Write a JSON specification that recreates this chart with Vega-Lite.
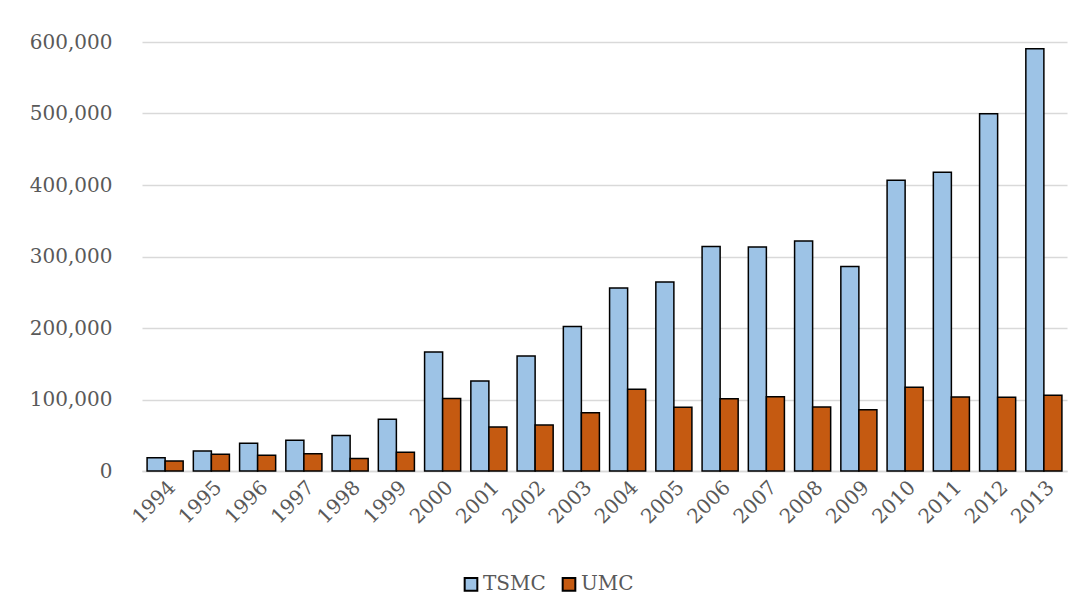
{
  "$schema": "https://vega.github.io/schema/vega-lite/v6.json",
  "autosize": {"type": "none"},
  "width": 925,
  "height": 429,
  "padding": {"left": 142, "top": 42, "right": 16, "bottom": 145},
  "background": "white",
  "data": {
    "values": [
      {"year": "1994", "company": "TSMC", "value": 18500},
      {"year": "1994", "company": "UMC", "value": 14000},
      {"year": "1995", "company": "TSMC", "value": 27800},
      {"year": "1995", "company": "UMC", "value": 23400},
      {"year": "1996", "company": "TSMC", "value": 38800},
      {"year": "1996", "company": "UMC", "value": 22000},
      {"year": "1997", "company": "TSMC", "value": 43000},
      {"year": "1997", "company": "UMC", "value": 24200},
      {"year": "1998", "company": "TSMC", "value": 49500},
      {"year": "1998", "company": "UMC", "value": 17500},
      {"year": "1999", "company": "TSMC", "value": 72500},
      {"year": "1999", "company": "UMC", "value": 26200},
      {"year": "2000", "company": "TSMC", "value": 166500},
      {"year": "2000", "company": "UMC", "value": 101500},
      {"year": "2001", "company": "TSMC", "value": 125800},
      {"year": "2001", "company": "UMC", "value": 61500},
      {"year": "2002", "company": "TSMC", "value": 161000},
      {"year": "2002", "company": "UMC", "value": 64200},
      {"year": "2003", "company": "TSMC", "value": 202000},
      {"year": "2003", "company": "UMC", "value": 81500},
      {"year": "2004", "company": "TSMC", "value": 255800},
      {"year": "2004", "company": "UMC", "value": 114500},
      {"year": "2005", "company": "TSMC", "value": 264500},
      {"year": "2005", "company": "UMC", "value": 89300},
      {"year": "2006", "company": "TSMC", "value": 314000},
      {"year": "2006", "company": "UMC", "value": 101200},
      {"year": "2007", "company": "TSMC", "value": 313200},
      {"year": "2007", "company": "UMC", "value": 103800},
      {"year": "2008", "company": "TSMC", "value": 321700},
      {"year": "2008", "company": "UMC", "value": 89400},
      {"year": "2009", "company": "TSMC", "value": 286000},
      {"year": "2009", "company": "UMC", "value": 85600},
      {"year": "2010", "company": "TSMC", "value": 406800},
      {"year": "2010", "company": "UMC", "value": 117000},
      {"year": "2011", "company": "TSMC", "value": 418000},
      {"year": "2011", "company": "UMC", "value": 103500},
      {"year": "2012", "company": "TSMC", "value": 499800},
      {"year": "2012", "company": "UMC", "value": 103000},
      {"year": "2013", "company": "TSMC", "value": 590600},
      {"year": "2013", "company": "UMC", "value": 105800}
    ]
  },
  "mark": {"type": "bar", "stroke": "black", "strokeWidth": 1.5},
  "encoding": {
    "x": {
      "field": "year",
      "type": "ordinal",
      "scale": {"paddingInner": 0.22, "paddingOuter": 0.11},
      "axis": {
        "title": null,
        "labelAngle": -45,
        "labelFont": "DejaVu Serif",
        "labelFontSize": 20,
        "labelColor": "#595959",
        "labelPadding": 6,
        "ticks": false,
        "domainColor": "#D9D9D9",
        "domainWidth": 1.5,
        "grid": false
      }
    },
    "xOffset": {
      "field": "company",
      "type": "nominal",
      "sort": ["TSMC", "UMC"],
      "scale": {"paddingInner": 0, "paddingOuter": 0}
    },
    "y": {
      "field": "value",
      "type": "quantitative",
      "scale": {"domain": [0, 600000], "nice": false},
      "axis": {
        "title": null,
        "values": [0, 100000, 200000, 300000, 400000, 500000, 600000],
        "format": ",d",
        "labelFont": "DejaVu Serif",
        "labelFontSize": 20,
        "labelColor": "#595959",
        "labelPadding": 30,
        "ticks": false,
        "domain": false,
        "gridColor": "#D9D9D9",
        "gridWidth": 1.5
      }
    },
    "fill": {
      "field": "company",
      "type": "nominal",
      "sort": ["TSMC", "UMC"],
      "scale": {"domain": ["TSMC", "UMC"], "range": ["#9DC3E6", "#C55A11"]},
      "legend": {
        "title": null,
        "orient": "none",
        "direction": "horizontal",
        "legendX": 319,
        "legendY": 532,
        "symbolType": "square",
        "symbolSize": 160,
        "symbolStrokeColor": "black",
        "symbolStrokeWidth": 2,
        "symbolOpacity": 1,
        "labelFont": "DejaVu Serif",
        "labelFontSize": 20,
        "labelColor": "#595959",
        "labelOffset": 2,
        "columnPadding": 12
      }
    }
  },
  "config": {
    "view": {"stroke": null}
  }
}
